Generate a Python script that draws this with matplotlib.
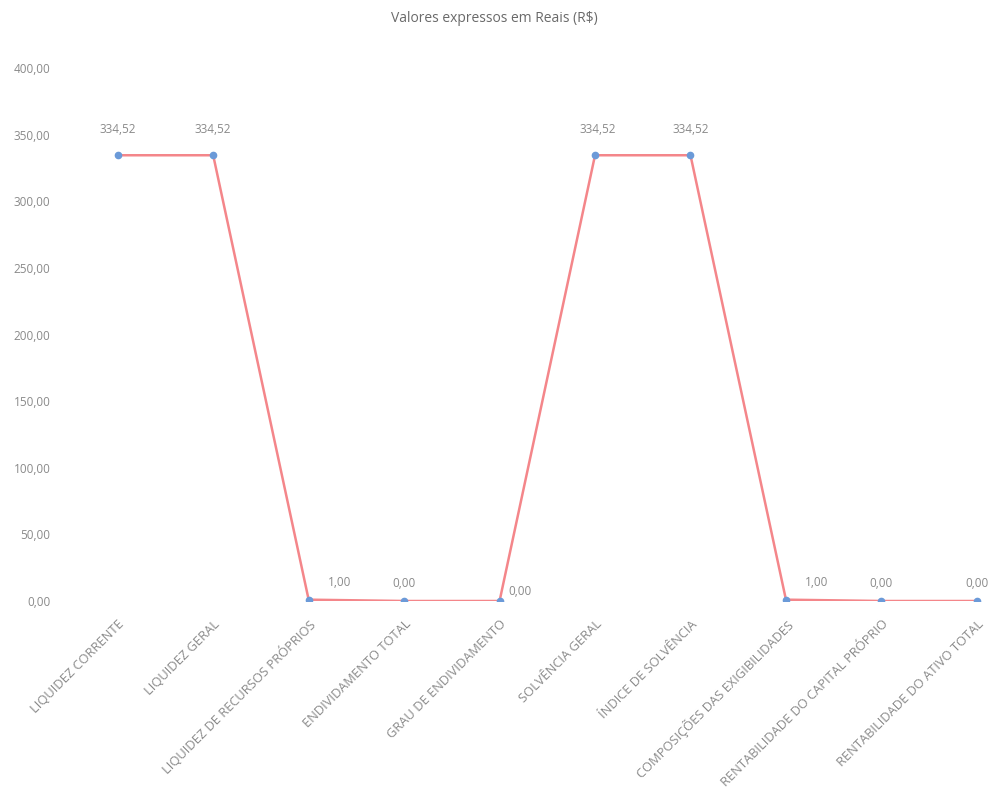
import matplotlib
matplotlib.use("Agg")
import matplotlib.pyplot as plt
import matplotlib.ticker as plticker

categories = ["LIQUIDEZ CORRENTE", "LIQUIDEZ GERAL", "LIQUIDEZ DE RECURSOS PRÓPRIOS",
              "ENDIVIDAMENTO TOTAL", "GRAU DE ENDIVIDAMENTO", "SOLVÊNCIA GERAL",
              "ÍNDICE DE SOLVÊNCIA", "COMPOSIÇÕES DAS EXIGIBILIDADES",
              "RENTABILIDADE DO CAPITAL PRÓPRIO", "RENTABILIDADE DO ATIVO TOTAL"]
values = [334.52, 334.52, 1.00, 0.00, 0.00, 334.52, 334.52, 1.00, 0.00, 0.00]
y_ticks = [0, 50, 100, 150, 200, 250, 300, 350, 400]

plt.rcParams['font.family'] = ['Open Sans', 'DejaVu Sans']

grey = '#8a8a8a'

fig = plt.figure(figsize=(9.95, 7.97), dpi=100)
ax = fig.add_axes([70 / 995, 1 - 601 / 797, 925 / 995, 533 / 797])

x = list(range(len(categories)))
ax.plot(x, values, color='#f4868a', lw=1.8, zorder=2)
ax.plot(x, values, 'o', color='#6b9ad8', ms=4.5, zorder=3)

# data labels, shifted a bit like the excel placement
offsets = [(0, 14), (0, 14), (22, 8), (0, 8), (15, 2), (2, 14), (0, 14), (22, 8), (0, 8), (0, 8)]
for xi, v, off in zip(x, values, offsets):
    ax.annotate(f"{v:.2f}".replace('.', ','), (xi, v), xytext=off, textcoords='offset points',
                ha='center', va='bottom', color=grey, fontsize=8.5)

ax.set_xlim(-0.5, 9.19)
ax.set_ylim(0, 400)
ax.set_yticks(y_ticks)
ax.yaxis.set_major_formatter(plticker.FuncFormatter(lambda v, p: f"{v:.2f}".replace('.', ',')))
ax.set_xticks(x)
ax.set_xticklabels(categories, rotation=45, ha='right', rotation_mode='anchor')

for s in ax.spines.values():
    s.set_visible(False)
ax.tick_params(axis='both', length=0, colors=grey, labelsize=8.5)
ax.tick_params(axis='x', labelsize=9.3, pad=12)
ax.tick_params(axis='y', pad=14)

fig.text(0.497, 1 - 18 / 797, "Valores expressos em Reais (R$)", ha='center', va='center',
         color='#6a6a6a', fontsize=10)

fig.savefig("out.png", dpi=100)
